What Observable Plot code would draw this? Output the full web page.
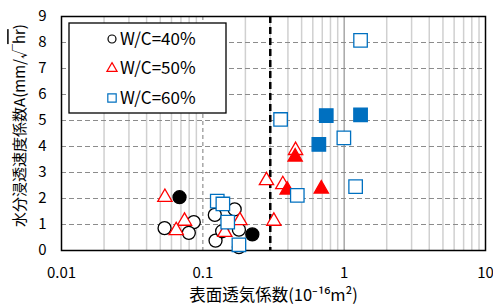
<!DOCTYPE html>
<html><head><meta charset="utf-8">
<script src="https://cdn.jsdelivr.net/npm/d3@7"></script>
<script src="https://cdn.jsdelivr.net/npm/@observablehq/plot@0.6"></script>
<style>
body{margin:0;background:#fff}
#chart{width:493px;height:305px}
</style>
</head><body><div id="chart"></div>
<script>
// W/C=40% (circles)
const x40open = [0.0536, 0.0863, 0.0796, 0.1216, 0.168, 0.123, 0.137, 0.18, 0.18];
const y40open = [0.86, 1.09, 0.68, 1.37, 1.58, 0.38, 0.74, 0.80, 0.13];
const x40fill = [0.0684, 0.224];
const y40fill = [2.05, 0.62];
// W/C=50% (triangles)
const x50open = [0.0539, 0.0742, 0.0648, 0.143, 0.183, 0.318, 0.282, 0.368, 0.453];
const y50open = [2.05, 1.13, 0.77, 0.70, 1.15, 1.13, 2.69, 2.54, 3.85];
const x50fill = [0.45, 0.395, 0.689];
const y50fill = [3.6, 2.33, 2.37];
// W/C=60% (squares)
const x60open = [0.1265, 0.1386, 0.150, 0.18, 0.355, 0.466, 0.995, 1.205, 1.306];
const y60open = [1.90, 1.79, 1.09, 0.22, 5.04, 2.12, 4.33, 2.46, 8.08];
const x60fill = [0.747, 1.306, 0.662];
const y60fill = [5.19, 5.22, 4.08];

const seriesNames = ["W/C=40%", "W/C=50%", "W/C=60%"];
const seriesColors = ["#000000", "#ff0000", "#0070c0"];
const xTicks = [0.01, 0.1, 1, 10];
const yTicks = [0, 1, 2, 3, 4, 5, 6, 7, 8, 9];
const yGrid = [1, 2, 3, 4, 5, 6, 7, 8];
const minorMult = [2, 3, 4, 5, 6, 7, 8, 9];
const decades = [0.01, 0.1, 1];
const threshold = [0.3];

const minorTicks = decades.flatMap(d => minorMult.map(m => +(d * m).toPrecision(3)));
const pts = (xs, ys) => xs.map((x, i) => ({x, y: ys[i]}));

const font = '"Noto Sans CJK JP", "Noto Sans", sans-serif';

const chart = Plot.plot({
  width: 493, height: 305,
  marginLeft: 61, marginRight: 8, marginTop: 16, marginBottom: 55,
  style: {fontFamily: font, fontSize: "15px", color: "#000", background: "#fff"},
  x: {type: "log", domain: [0.01, 10]},
  y: {domain: [0, 9]},
  marks: [
    Plot.ruleX(minorTicks, {stroke: "#d0d0d0", strokeWidth: 1.5}),
    Plot.ruleX([0.1], {stroke: "#9a9a9a", strokeWidth: 1.3, strokeDasharray: "4,3"}),
    Plot.ruleX([1], {stroke: "#9a9a9a", strokeWidth: 1.3}),
    Plot.ruleY(yGrid, {stroke: "#8c8c8c", strokeWidth: 1.2, strokeDasharray: "5,3"}),
    Plot.ruleX(threshold, {stroke: "#000", strokeWidth: 2.5, strokeDasharray: "7,4"}),
    Plot.frame({stroke: "#000", strokeWidth: 1.5}),
    Plot.dot(pts(x40open, y40open), {x: "x", y: "y", symbol: "circle", r: 6.5, stroke: seriesColors[0], strokeWidth: 1.3, fill: "#fff"}),
    Plot.dot(pts(x40fill, y40fill), {x: "x", y: "y", symbol: "circle", r: 6.5, stroke: seriesColors[0], strokeWidth: 1.3, fill: seriesColors[0]}),
    Plot.dot(pts(x50open, y50open), {x: "x", y: "y", symbol: "triangle", r: 5.3, stroke: seriesColors[1], strokeWidth: 1.3, fill: "#fff"}),
    Plot.dot(pts(x50fill, y50fill), {x: "x", y: "y", symbol: "triangle", r: 5.3, stroke: seriesColors[1], strokeWidth: 1.3, fill: seriesColors[1]}),
    Plot.dot(pts(x60open, y60open), {x: "x", y: "y", symbol: "square", r: 7.6, stroke: seriesColors[2], strokeWidth: 1.3, fill: "#fff"}),
    Plot.dot(pts(x60fill, y60fill), {x: "x", y: "y", symbol: "square", r: 7.6, stroke: seriesColors[2], strokeWidth: 1.3, fill: seriesColors[2]}),
    Plot.axisX({ticks: xTicks, tickFormat: d => String(d), tickSize: 0, tickPadding: 17, fontSize: 15,
      label: "表面透気係数(10⁻¹⁶m²)", labelAnchor: "center", labelArrow: "none", labelOffset: 50}),
    Plot.axisY({ticks: yTicks, tickFormat: d => String(d), tickSize: 0, tickPadding: 15, fontSize: 15,
      label: "水分浸透速度係数A(mm/√hr)", labelAnchor: "center", labelArrow: "none", labelOffset: 47})
  ]
});
document.getElementById("chart").appendChild(chart);

// style axis labels
const svg = d3.select(chart);
svg.selectAll('[aria-label="x-axis label"] text').style("font-size", "16.5px");
const yl = svg.select('[aria-label="y-axis label"] text').style("font-size", "15px");
if (!yl.empty()) {
  yl.attr("dx", 8);
  yl.text(null);
  yl.append("tspan").text("水分浸透速度係数A(mm/√");
  yl.append("tspan").style("text-decoration", "overline").text("hr");
  yl.append("tspan").text(")");
}

// legend
const lg = svg.append("g").attr("font-family", font).attr("text-anchor", "start");
lg.append("rect").attr("x", 69).attr("y", 23).attr("width", 157).attr("height", 90)
  .attr("fill", "#fff").attr("stroke", "#000").attr("stroke-width", 1.3);
const legSym = [d3.symbolCircle, d3.symbolTriangle, d3.symbolSquare];
const legSize = [50, 45, 70];
seriesNames.forEach((name, i) => {
  const cy = 39 + i * 29.5;
  lg.append("path").attr("d", d3.symbol(legSym[i], legSize[i])())
    .attr("transform", `translate(112,${cy})`)
    .attr("fill", "#fff").attr("stroke", seriesColors[i]).attr("stroke-width", 1.2);
  lg.append("text").attr("x", 120).attr("y", cy).attr("dy", "0.35em")
    .attr("font-size", 17).attr("fill", "#000").attr("text-anchor", "start").text(name);
});
</script></body></html>
